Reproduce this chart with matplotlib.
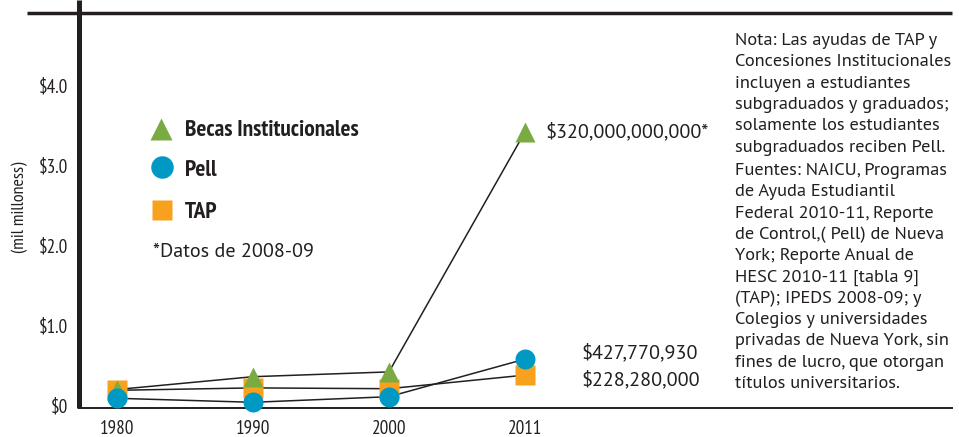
import matplotlib
matplotlib.use('Agg')
import matplotlib.pyplot as plt
from matplotlib.lines import Line2D

W, H, DPI = 959, 437, 100

# ---- data (billions of dollars) ----
years = ['1980', '1990', '2000', '2011']
becas = [0.20, 0.36, 0.42, 3.42]
pell = [0.09, 0.04, 0.11, 0.58]
tap = [0.19, 0.22, 0.21, 0.38]
yticks = [0, 1, 2, 3, 4]
ytick_labels = ['$0', '$1.0', '$2.0', '$3.0', '$4.0']
series_names = ['Becas Institucionales', 'Pell', 'TAP']
annot_becas = '$320,000,000,000*'
annot_pell = '$427,770,930'
annot_tap = '$228,280,000'
note_1 = ['Nota: Las ayudas de TAP y',
          'Concesiones Institucionales',
          'incluyen a estudiantes',
          'subgraduados y graduados;',
          'solamente los estudiantes',
          'subgraduados reciben Pell.']
note_2 = ['Fuentes: NAICU, Programas',
          'de Ayuda Estudiantil',
          'Federal 2010-11, Reporte',
          'de Control,( Pell) de Nueva',
          'York; Reporte Anual de',
          'HESC 2010-11 [tabla 9]',
          '(TAP); IPEDS 2008-09; y',
          'Colegios y universidades',
          'privadas de Nueva York, sin',
          'fines de lucro, que otorgan',
          'títulos universitarios.']

GREEN = '#7AAB42'
BLUE = '#0099C4'
ORANGE = '#F8A11C'
INK = '#231F20'
NARROW = ['PT Sans Narrow', 'DejaVu Sans']
REG = ['PT Sans', 'DejaVu Sans']

fig = plt.figure(figsize=(W / DPI, H / DPI), dpi=DPI)
fig.patch.set_facecolor('white')


def fx(px):
    return px / W


def fy(py):
    return 1 - py / H


ax = fig.add_axes([fx(79), (H - 407.7) / H, 873 / W, 407.7 / H])
ax.set_facecolor('none')
ax.set_xlim(-0.2794, 6.140)
ax.set_ylim(-0.0275, 5.069)
for s in ['top', 'right']:
    ax.spines[s].set_visible(False)
ax.spines['left'].set_linewidth(3.6)
ax.spines['left'].set_color(INK)
ax.spines['bottom'].set_linewidth(1.4)
ax.spines['bottom'].set_color(INK)
ax.spines['left'].set_capstyle('butt')

x = list(range(len(years)))
ax.set_xticks(x)
ax.set_xticklabels(years, fontfamily=NARROW, fontsize=13.8, color=INK)
ax.set_yticks(yticks)
ax.set_yticklabels(ytick_labels, fontfamily=NARROW, fontsize=13.8, color=INK)
ax.tick_params(axis='both', length=0)
ax.tick_params(axis='y', pad=7.9)
ax.tick_params(axis='x', pad=9.0)

# connecting lines
for vals in (becas, tap, pell):
    ax.plot(x, vals, color=INK, lw=1.1, zorder=2, clip_on=False)

# markers: squares bottom, triangles, circles top
ax.plot(x, tap, ls='none', marker='s', ms=14.4, mfc=ORANGE, mec='none', zorder=3, clip_on=False)
ax.plot(x, becas, ls='none', marker='^', ms=15.0, mfc=GREEN, mec='none', zorder=4, clip_on=False)
ax.plot(x, pell, ls='none', marker='o', ms=14.4, mfc=BLUE, mec='none', zorder=5, clip_on=False)

# value annotations
ax.annotate(annot_becas, xy=(x[3], becas[3]), xytext=(14.4, 0), textcoords='offset points',
            va='center', ha='left', fontfamily=REG, fontsize=14.5, color=INK)
ax.annotate(annot_pell, xy=(x[3], pell[3]), xytext=(41, 4.3), textcoords='offset points',
            va='center', ha='left', fontfamily=REG, fontsize=14.5, color=INK)
ax.annotate(annot_tap, xy=(x[3], tap[3]), xytext=(41, -3.6), textcoords='offset points',
            va='center', ha='left', fontfamily=REG, fontsize=14.5, color=INK)

# y label
fig.text(fx(20), fy(207), '(mil milloness)', rotation=90, va='center', ha='center',
         fontfamily=NARROW, fontsize=13, color=INK)

# top rule
fig.add_artist(Line2D([fx(27), fx(952)], [fy(13), fy(13)], lw=2.5, color=INK,
                      solid_capstyle='butt'))

# legend (manual)
fig.add_artist(Line2D([fx(161)], [fy(128.5)], ls='none', marker='^', ms=15.8, mfc=GREEN, mec='none'))
fig.add_artist(Line2D([fx(161.5)], [fy(166.7)], ls='none', marker='o', ms=16.2, mfc=BLUE, mec='none'))
fig.add_artist(Line2D([fx(162)], [fy(210)], ls='none', marker='s', ms=14.4, mfc=ORANGE, mec='none'))
for name, py in zip(series_names, [131, 171, 212]):
    fig.text(fx(185), fy(py), name, va='center', ha='left', fontfamily=NARROW,
             fontweight='bold', fontsize=16.8, color=INK)
fig.text(fx(153), fy(252), '*Datos de 2008-09', va='center', ha='left',
         fontfamily=REG, fontsize=14.5, color=INK)

# notes
LS = 21.3
for i, line in enumerate(note_1):
    fig.text(fx(735), fy(45 + i * LS), line, va='baseline', ha='left',
             fontfamily=REG, fontsize=13.2, color=INK)
for i, line in enumerate(note_2):
    fig.text(fx(735), fy(175 + i * LS), line, va='baseline', ha='left',
             fontfamily=REG, fontsize=13.2, color=INK)

fig.savefig('out.png', dpi=DPI, facecolor='white')
